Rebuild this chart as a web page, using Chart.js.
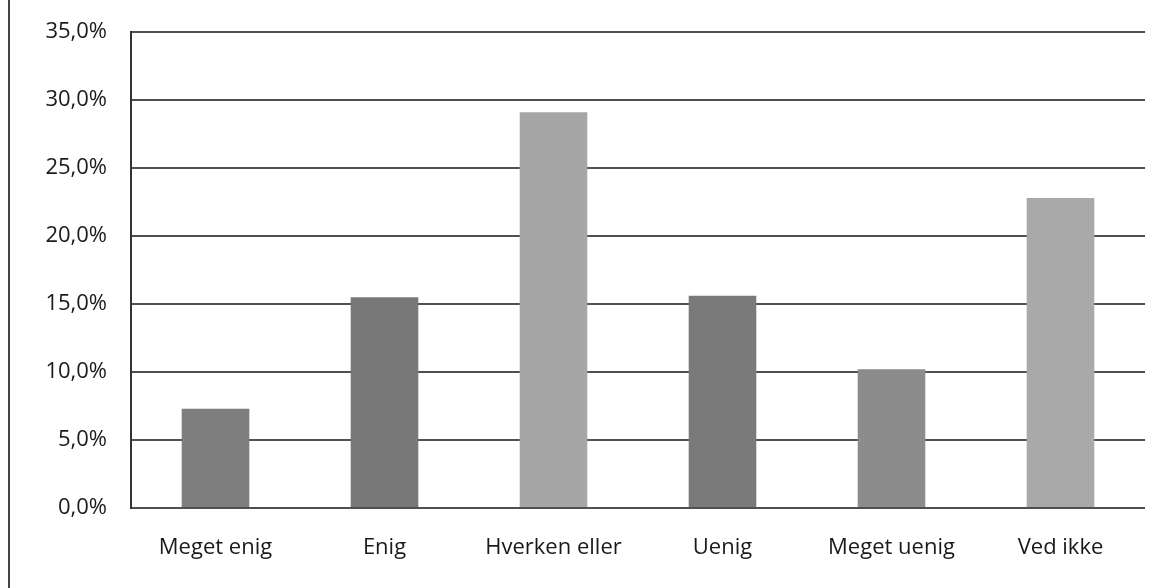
<!DOCTYPE html>
<html>
<head>
<meta charset="utf-8">
<script src="https://cdn.jsdelivr.net/npm/chart.js@4"></script>
<style>
  html, body { margin: 0; padding: 0; background: #fff; }
  #wrap { position: relative; width: 1160px; height: 588px; }
  #frame { position: absolute; left: 8px; top: 0; width: 2px; height: 588px; background: #444; }
</style>
</head>
<body>
<div id="wrap">
  <div id="frame"></div>
  <canvas id="chart" width="1160" height="588"></canvas>
</div>
<script>
// data
const categories = ['Meget enig', 'Enig', 'Hverken eller', 'Uenig', 'Meget uenig', 'Ved ikke'];
const shares = [7.3, 15.5, 29.1, 15.6, 10.2, 22.8];
const barColors = ['#7e7e7e', '#787878', '#a6a6a6', '#7a7a7a', '#8c8c8c', '#a9a9a9'];
const yTicks = [0, 5, 10, 15, 20, 25, 30, 35];

const fmt = v => v.toFixed(1).replace('.', ',') + '%';

new Chart(document.getElementById('chart'), {
  type: 'bar',
  data: {
    labels: categories,
    datasets: [{
      data: shares,
      backgroundColor: barColors,
      borderWidth: 0,
      barPercentage: 0.4,
      categoryPercentage: 1.0,
    }]
  },
  options: {
    responsive: false,
    animation: false,
    layout: { padding: { left: 10, right: 15, top: 32, bottom: 0 } },
    plugins: { legend: { display: false }, tooltip: { enabled: false } },
    scales: {
      x: {
        grid: { display: false, drawTicks: false },
        border: { display: false },
        ticks: { color: '#1a1a1a', padding: 27, font: { family: 'Open Sans', size: 22 } },
        afterFit: s => { s.height = 80; },
      },
      y: {
        min: 0,
        max: 35,
        afterBuildTicks: s => { s.ticks = yTicks.map(v => ({ value: v })); },
        grid: { color: '#505050', lineWidth: 2, drawTicks: false },
        border: { display: true, color: '#333', width: 2 },
        ticks: { color: '#1a1a1a', padding: 24, font: { family: 'Open Sans', size: 22 }, callback: v => fmt(v) },
        afterFit: s => { s.width = 121; s.paddingTop = 0; s.paddingBottom = 0; },
      }
    }
  }
});
</script>
</body>
</html>
